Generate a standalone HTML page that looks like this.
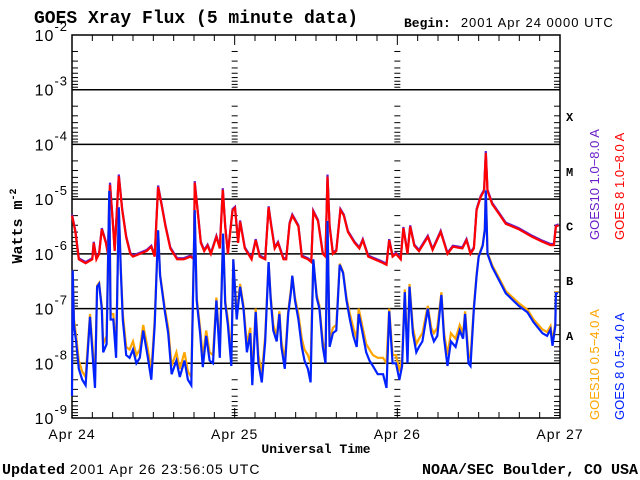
<!DOCTYPE html>
<html><head><meta charset="utf-8"><style>
body{margin:0;background:#fff;width:640px;height:480px;overflow:hidden}
svg{display:block}
.s{font-family:"Liberation Sans",sans-serif;letter-spacing:1px}
.b{font-family:"Liberation Mono",monospace;font-weight:bold}
.lg{font-family:"Liberation Sans",sans-serif;letter-spacing:0}
</style></head><body>
<svg id="c" width="640" height="480" xmlns="http://www.w3.org/2000/svg">
<text class="b" x="34" y="23" font-size="18">GOES Xray Flux (5 minute data)</text>
<text x="404" y="27" font-size="13"><tspan class="b">Begin:</tspan><tspan class="s" dx="10">2001 Apr 24 0000 UTC</tspan></text>
<text class="b" transform="translate(22,226) rotate(-90)" text-anchor="middle" font-size="15">Watts m<tspan dy="-6" font-size="10">-2</tspan></text>
<text class="b" x="316" y="453" text-anchor="middle" font-size="13">Universal Time</text>
<text x="2" y="474" font-size="14"><tspan class="b" font-size="15">Updated</tspan><tspan class="s"> 2001 Apr 26 23:56:05 UTC</tspan></text>
<text class="b" x="638" y="474" text-anchor="end" font-size="15">NOAA/SEC Boulder, CO USA</text>
<g id="axes"></g>
<g id="series"></g>
<g class="lg" font-size="13">
<text transform="translate(599,240) rotate(-90)" fill="#6a1fc8">GOES10 1.0−8.0 A</text>
<text transform="translate(624,240) rotate(-90)" fill="#ff0000">GOES 8 1.0−8.0 A</text>
<text transform="translate(599,420) rotate(-90)" fill="#ffa500">GOES10 0.5−4.0 A</text>
<text transform="translate(624,420) rotate(-90)" fill="#0022ff">GOES 8 0.5−4.0 A</text>
</g>
</svg>
<script>
const dayLabels=["Apr 24","Apr 25","Apr 26","Apr 27"];
const decadeExps=[-2,-3,-4,-5,-6,-7,-8,-9];
const classLetters=["X","M","C","B","A"];
const longT=[0,0.5,1,2,3,3.2,3.6,4,4.4,5,5.3,5.6,6,6.3,6.9,7.4,8,8.6,9,10,11,11.7,12.2,12.7,13.2,13.8,14.5,15.5,16.5,17.5,18,18.1,18.6,19,19.5,20,20.5,21.3,21.8,22.25,22.6,23,23.7,24.05,24.5,24.8,25.5,26.5,27.1,27.7,28.5,29,29.4,29.9,30.4,31.2,31.6,32.1,32.5,33.4,33.9,34.8,35.3,35.6,36.3,37,37.4,37.7,38,38.5,39,39.6,40.1,40.7,41.7,42.4,42.9,43.7,44.6,45.6,46.4,46.8,47.3,47.8,48.5,48.9,49.5,49.9,50.5,51.2,52.5,53.2,54.4,55.4,56.2,57.6,58.2,58.8,59.3,59.7,60.3,60.8,61.05,61.3,62,63,64,65.9,67.9,69.4,70.6,71.1,71.4,71.8];
const goes8Long=[-5.3,-5.6,-6.1,-6.17,-6.1,-5.8,-6.1,-6.0,-5.55,-5.8,-6.0,-4.74,-5.4,-5.95,-4.58,-5.2,-5.7,-6.0,-6.05,-6.0,-5.95,-5.87,-6.05,-4.78,-5.1,-5.5,-5.9,-6.1,-6.1,-6.05,-6.1,-4.7,-5.3,-5.8,-5.95,-5.85,-6.0,-5.69,-5.9,-4.83,-5.5,-6.0,-5.2,-5.16,-5.8,-5.41,-5.9,-6.1,-5.75,-6.05,-6.1,-5.15,-5.5,-5.9,-5.8,-6.1,-6.1,-5.45,-5.3,-5.5,-6.05,-6.1,-6.15,-5.23,-5.4,-6.0,-6.05,-4.59,-5.5,-6.0,-5.95,-5.2,-5.3,-5.6,-5.8,-5.9,-5.75,-6.05,-6.1,-6.15,-6.2,-5.75,-6.05,-6.0,-6.1,-5.53,-6.0,-5.5,-5.85,-5.95,-5.69,-5.93,-5.6,-6.0,-5.87,-5.9,-5.75,-6.0,-5.9,-5.2,-4.96,-4.85,-4.16,-4.85,-5.09,-5.27,-5.45,-5.55,-5.69,-5.78,-5.84,-5.84,-5.5,-5.48];
const goes10Long=[-5.28,-5.58,-6.08,-6.15,-6.08,-5.78,-6.08,-5.98,-5.53,-5.78,-5.98,-4.70,-5.38,-5.93,-4.55,-5.18,-5.68,-5.98,-6.03,-5.98,-5.93,-5.85,-6.03,-4.75,-5.08,-5.48,-5.88,-6.08,-6.08,-6.03,-6.08,-4.67,-5.28,-5.78,-5.93,-5.83,-5.98,-5.67,-5.88,-4.80,-5.48,-5.98,-5.18,-5.14,-5.78,-5.39,-5.88,-6.08,-5.73,-6.03,-6.08,-5.13,-5.48,-5.88,-5.78,-6.08,-6.08,-5.43,-5.28,-5.48,-6.03,-6.08,-6.13,-5.21,-5.38,-5.98,-6.03,-4.55,-5.48,-5.98,-5.93,-5.18,-5.28,-5.58,-5.78,-5.88,-5.73,-6.03,-6.08,-6.13,-6.18,-5.73,-6.03,-5.98,-6.08,-5.51,-5.98,-5.48,-5.83,-5.93,-5.67,-5.91,-5.58,-5.98,-5.85,-5.88,-5.73,-5.98,-5.88,-5.18,-4.94,-4.83,-4.12,-4.83,-5.07,-5.25,-5.43,-5.53,-5.67,-5.76,-5.82,-5.82,-5.48,-5.46];
const shortT=[0,0.1,0.3,0.6,1,1.5,2,2.65,3.1,3.4,3.7,4,4.4,4.6,5.1,5.5,5.7,6.1,6.5,6.9,7.2,7.5,8,8.5,9,9.5,10,10.5,11.2,11.7,12.2,12.7,13,13.7,14.2,14.7,15.4,15.9,16.6,17.1,17.6,18.1,18.4,18.9,19.3,19.8,20.3,20.8,21.3,21.8,22.3,22.6,23,23.5,23.8,24.3,24.8,25.3,25.8,26.3,26.6,27.1,27.5,28,28.5,29,29.3,29.7,30.2,30.6,30.9,31.4,31.9,32.3,32.5,32.9,33.4,33.9,34.3,34.8,35.2,35.6,36.1,36.5,37,37.4,37.7,38,38.5,39,39.5,40,40.5,41,41.5,42,42.3,42.8,43.4,43.9,44.4,45.1,45.9,46.4,46.8,47.3,47.8,48.3,48.7,49.1,49.5,49.8,50.3,50.8,51.2,51.7,52.5,53,53.4,53.9,54.5,54.9,55.4,55.9,56.6,57.2,57.7,58,58.5,58.8,59.3,59.7,60,60.6,60.9,61.05,61.3,62,63,64,65.9,67.2,68.1,69.4,70.1,70.6,70.9,71.3,71.4,71.7];
const goes8Short=[-8.6,-6.3,-7.3,-7.6,-8.1,-8.3,-8.4,-7.15,-7.95,-8.45,-6.6,-6.55,-7.0,-7.8,-7.65,-4.85,-7.2,-7.2,-7.9,-5.15,-6.3,-7.2,-7.85,-7.9,-7.75,-8.0,-7.9,-7.4,-7.9,-8.3,-7.3,-5.57,-6.4,-7.06,-7.45,-8.2,-7.95,-8.25,-7.95,-8.3,-8.4,-5.2,-6.85,-7.45,-8.07,-7.5,-7.95,-8.0,-6.85,-7.9,-5.63,-6.9,-7.3,-8.05,-6.1,-7.2,-6.6,-7.0,-7.8,-7.45,-8.4,-7.06,-8.0,-8.35,-7.6,-6.15,-6.8,-7.4,-7.6,-7.1,-7.7,-8.1,-7.1,-6.7,-6.4,-6.85,-7.2,-7.7,-7.95,-8.1,-8.35,-6.1,-6.8,-7.0,-7.7,-8.0,-5.4,-7.7,-7.45,-7.4,-6.2,-6.35,-6.85,-7.2,-7.5,-7.7,-7.1,-7.4,-7.8,-7.95,-8.05,-8.2,-8.2,-8.45,-7.05,-8.0,-8.0,-8.3,-8.05,-6.7,-8.0,-6.6,-7.45,-7.8,-7.7,-7.6,-7.0,-7.45,-7.6,-7.5,-6.75,-7.55,-8.05,-7.6,-7.7,-7.4,-7.55,-7.1,-8.0,-8.05,-7.0,-6.4,-6.05,-5.85,-5.56,-4.84,-6.0,-6.24,-6.48,-6.72,-6.95,-7.07,-7.25,-7.45,-7.5,-7.38,-7.68,-7.32,-6.72,-6.72];
const goes10Short=[-8.4,-6.3,-7.2,-7.5,-7.95,-8.15,-8.25,-7.1,-7.8,-8.3,-6.58,-6.53,-6.95,-7.65,-7.5,-4.85,-7.1,-7.1,-7.75,-5.15,-6.28,-7.1,-7.7,-7.75,-7.6,-7.85,-7.75,-7.3,-7.75,-8.15,-7.2,-5.57,-6.38,-7.0,-7.35,-8.05,-7.8,-8.1,-7.8,-8.15,-8.25,-5.2,-6.8,-7.35,-7.9,-7.4,-7.8,-7.85,-6.8,-7.75,-5.63,-6.85,-7.2,-7.9,-6.1,-7.1,-6.55,-6.95,-7.65,-7.35,-8.25,-7.0,-7.85,-8.2,-7.5,-6.15,-6.75,-7.3,-7.5,-7.05,-7.6,-7.95,-7.05,-6.65,-6.4,-6.8,-7.1,-7.55,-7.75,-7.85,-8.0,-6.1,-6.75,-6.95,-7.6,-7.85,-5.4,-7.6,-7.35,-7.3,-6.18,-6.33,-6.8,-7.1,-7.35,-7.55,-7.0,-7.3,-7.65,-7.75,-7.85,-7.9,-7.9,-8.0,-7.0,-7.85,-7.85,-8.15,-7.9,-6.65,-7.85,-6.55,-7.35,-7.65,-7.55,-7.45,-6.95,-7.35,-7.45,-7.35,-6.7,-7.45,-7.85,-7.45,-7.55,-7.3,-7.45,-7.05,-7.85,-7.9,-6.95,-6.38,-6.03,-5.83,-5.55,-4.84,-5.98,-6.21,-6.44,-6.68,-6.9,-7.02,-7.2,-7.38,-7.43,-7.32,-7.6,-7.27,-6.7,-6.7];

const L=72,R=560,T=35,B=418,NS="http://www.w3.org/2000/svg";
const xS=h=>L+h*(R-L)/72;
const yS=v=>T+(-2-v)*(B-T)/7;
const ax=document.getElementById('axes'),sg=document.getElementById('series');
function mk(tag,at,p){const e=document.createElementNS(NS,tag);for(const k in at)e.setAttribute(k,at[k]);(p||ax).appendChild(e);return e;}
function ln(x1,y1,x2,y2,w){return mk('line',{x1,y1,x2,y2,stroke:'#000','stroke-width':w||1});}
const fr=mk('rect',{x:L,y:T,width:R-L,height:B-T,fill:'none',stroke:'#000','stroke-width':1.5});


decadeExps.forEach((e,i)=>{
  const y=yS(e);
  if(e<-2&&e>-9){const g=ln(L,y,R,y,1.5);
    
    }
  const t=mk('text',{x:L-4,y:y+6,'text-anchor':'end','font-size':16,class:'s'});
  
  
  t.innerHTML='10<tspan dy="-10" font-size="13">'+e+'</tspan>';
  if(e>-9){for(let m=2;m<=9;m++){const yy=y+Math.log10(m)*(B-T)/7;
    ln(L,yy,L+6,yy);ln(R-6,yy,R,yy);
    [xS(24),xS(48)].forEach(dx=>ln(dx-3,yy,dx+3,yy));}}
});
classLetters.forEach((c,i)=>{const t=mk('text',{x:566,y:yS(-3.5-i)+4,'font-size':12,class:'b'});
  t.textContent=c;
  
  });
for(let h=0;h<=72;h+=3){const x=xS(h);const big=h%24==0;
  ln(x,B,x,B-(big?10:6));ln(x,T,x,T+(big?10:6));}
dayLabels.forEach((d,i)=>{const t=mk('text',{x:xS(i*24),y:439,'text-anchor':'middle','font-size':14,class:'s'});
  t.textContent=d;
  
  });
function series(ts,vs,col,name){
  const p=mk('polyline',{points:ts.map((t,i)=>xS(t).toFixed(1)+','+yS(vs[i]).toFixed(1)).join(' '),fill:'none',stroke:col,'stroke-width':2.2,'stroke-linejoin':'miter'},sg);
  
  
}
series(longT,goes10Long,'#6a1fc8','goes10-long-line');
series(longT,goes8Long,'#ff0000','goes8-long-line');
series(shortT,goes10Short,'#ffa500','goes10-short-line');
series(shortT,goes8Short,'#0022ff','goes8-short-line');
</script>
</body></html>
